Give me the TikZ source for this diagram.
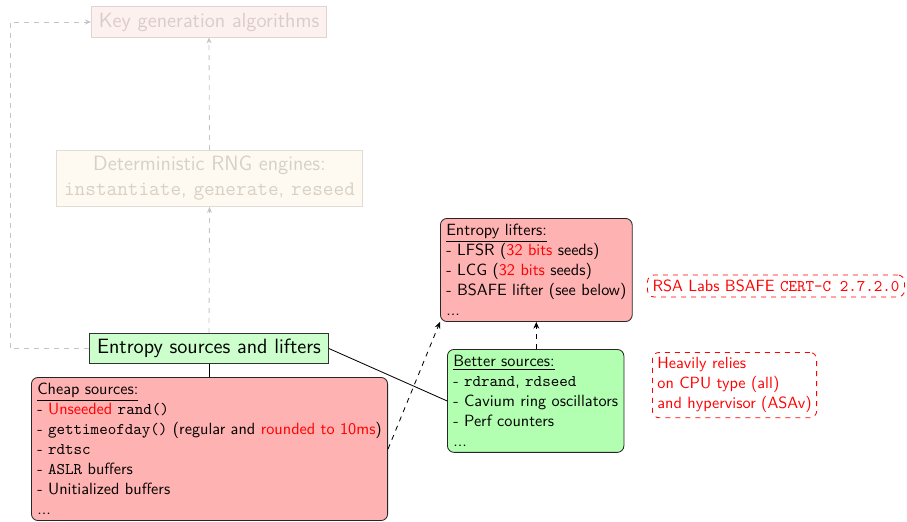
\documentclass[tikz,border=0pt]{standalone}
\usetikzlibrary{arrows.meta,calc}
\definecolor{fadetxtA}{HTML}{DCCBCB}
\definecolor{fadefillA}{HTML}{FDF1EF}
\definecolor{fadedrawA}{HTML}{E2D3D3}
\definecolor{fadetxtB}{HTML}{D8D0C6}
\definecolor{fadefillB}{HTML}{FEFAF2}
\definecolor{fadedrawB}{HTML}{E2DCD6}
\definecolor{conngray}{HTML}{C4C4C4}
\begin{document}
\begin{tikzpicture}[x=0.6pt,y=-0.6pt,font=\sffamily\fontsize{9.75}{12}\selectfont,
  titlebox/.style={draw, line width=0.5pt, inner xsep=4.5pt, inner ysep=3.5pt, font=\sffamily\fontsize{12.4}{15}\selectfont},
  listbox/.style={draw=black!85, line width=0.5pt, rounded corners=4pt, align=left, inner sep=3.5pt},
  note/.style={draw=red, text=red, dashed, line width=0.5pt, rounded corners=4pt, align=left, inner sep=3pt},
  gconn/.style={conngray, dashed, line width=0.5pt},
  garrow/.style={gconn, -{Stealth[length=3.5pt,width=3pt]}},
  barrow/.style={black, dashed, line width=0.5pt, -{Stealth[length=4pt,width=3.5pt]}},
  solidconn/.style={black, line width=0.5pt}]
\useasboundingbox (0,0) rectangle (907,521);

\node[titlebox, draw=fadedrawA, fill=fadefillA, text=fadetxtA] (keygen) at (209,22) {Key generation algorithms};
\node[titlebox, draw=fadedrawB, fill=fadefillB, text=fadetxtB, align=center] (determ) at (209.5,178.5)
  {Deterministic RNG engines:\\\texttt{instantiate}, \texttt{generate}, \texttt{reseed}};
\node[titlebox, draw=black!80, fill=green!20] (entropy) at (209,348.5) {Entropy sources and lifters};

\node[listbox, fill=red!30, anchor=north west] (cheap) at (31,377)
  {\underline{Cheap sources:}\\
   - \textcolor{red}{Unseeded} \texttt{rand()}\\
   - \texttt{gettimeofday()} (regular and \textcolor{red}{rounded to 10ms})\\
   - \texttt{rdtsc}\\
   - \texttt{ASLR} buffers\\
   - Unitialized buffers\\
   ...};

\node[listbox, fill=red!30, anchor=north west] (lifters) at (440,218)
  {\underline{Entropy lifters:}\\
   - LFSR (\textcolor{red}{32 bits} seeds)\\
   - LCG (\textcolor{red}{32 bits} seeds)\\
   - BSAFE lifter (see below)\\
   ...};

\node[listbox, fill=green!30, anchor=north west] (better) at (447,349)
  {\underline{Better sources:}\\
   - \texttt{rdrand}, \texttt{rdseed}\\
   - Cavium ring oscillators\\
   - Perf counters\\
   ...};

\node[note] (rsa) at (776,286) {RSA Labs BSAFE \texttt{CERT-C 2.7.2.0}};
\node[note, anchor=north west] (heavy) at (652,352) {Heavily relies\\on CPU type (all)\\and hypervisor (ASAv)};

\coordinate (lft) at (10,0);
\draw[garrow] (entropy.west) -- (entropy.west -| lft) |- (keygen.west);
\draw[garrow] (entropy.north) -- (determ.south);
\draw[garrow] (determ.north) -- (keygen.south);

\draw[solidconn] (entropy.south) -- (cheap.north -| entropy.south);
\draw[solidconn] (entropy.east) -- (better.west);
\draw[barrow] (cheap.east) -- (lifters.south west);
\draw[barrow] (better.north -| lifters.south) -- (lifters.south);
\end{tikzpicture}
\end{document}
